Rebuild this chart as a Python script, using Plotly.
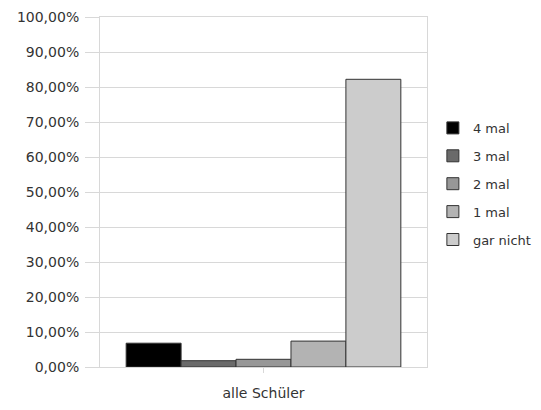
import plotly.graph_objects as go

categories = ["alle Schüler"]
series_names = ["4 mal", "3 mal", "2 mal", "1 mal", "gar nicht"]
series_values = [0.068, 0.018, 0.022, 0.074, 0.822]
series_colors = ["#000000", "#6a6a6a", "#979797", "#b3b3b3", "#cccccc"]
y_ticks = [i / 10 for i in range(11)]

fig = go.Figure()
for i, (name, val, col) in enumerate(zip(series_names, series_values, series_colors)):
    fig.add_trace(go.Bar(
        x=categories, y=[val], name=name, legendgroup=name,
        marker=dict(color=col, line=dict(color="#333333", width=1)),
    ))

fig.update_layout(
    width=541, height=410,
    margin=dict(l=92, r=122, t=9, b=51, autoexpand=False),
    paper_bgcolor="white", plot_bgcolor="white",
    barmode="group", bargap=0.16, bargroupgap=0,
    separators=",.",
    font=dict(family="DejaVu Sans, sans-serif", size=14, color="#333333"),
    legend=dict(x=1.018, xanchor="left", y=0.523, yanchor="middle",
                tracegroupgap=8, font=dict(size=13),
                itemwidth=30, bgcolor="rgba(0,0,0,0)"),
    showlegend=True,
)
fig.update_yaxes(range=[0, 1], tickvals=y_ticks, tickformat=".2%",
                 showgrid=True, gridcolor="#d8d8d8", gridwidth=1,
                 showline=True, linecolor="#d8d8d8", mirror=True,
                 ticks="outside", ticklen=14, tickcolor="#d8d8d8",
                 ticklabelstandoff=3, automargin=False,
                 zeroline=False, fixedrange=True)
fig.update_xaxes(showline=True, linecolor="#d8d8d8", mirror=True,
                 ticks="outside", ticklen=5, tickcolor="#d8d8d8",
                 ticklabelstandoff=8, automargin=False,
                 fixedrange=True)

fig.write_html("out.html")
